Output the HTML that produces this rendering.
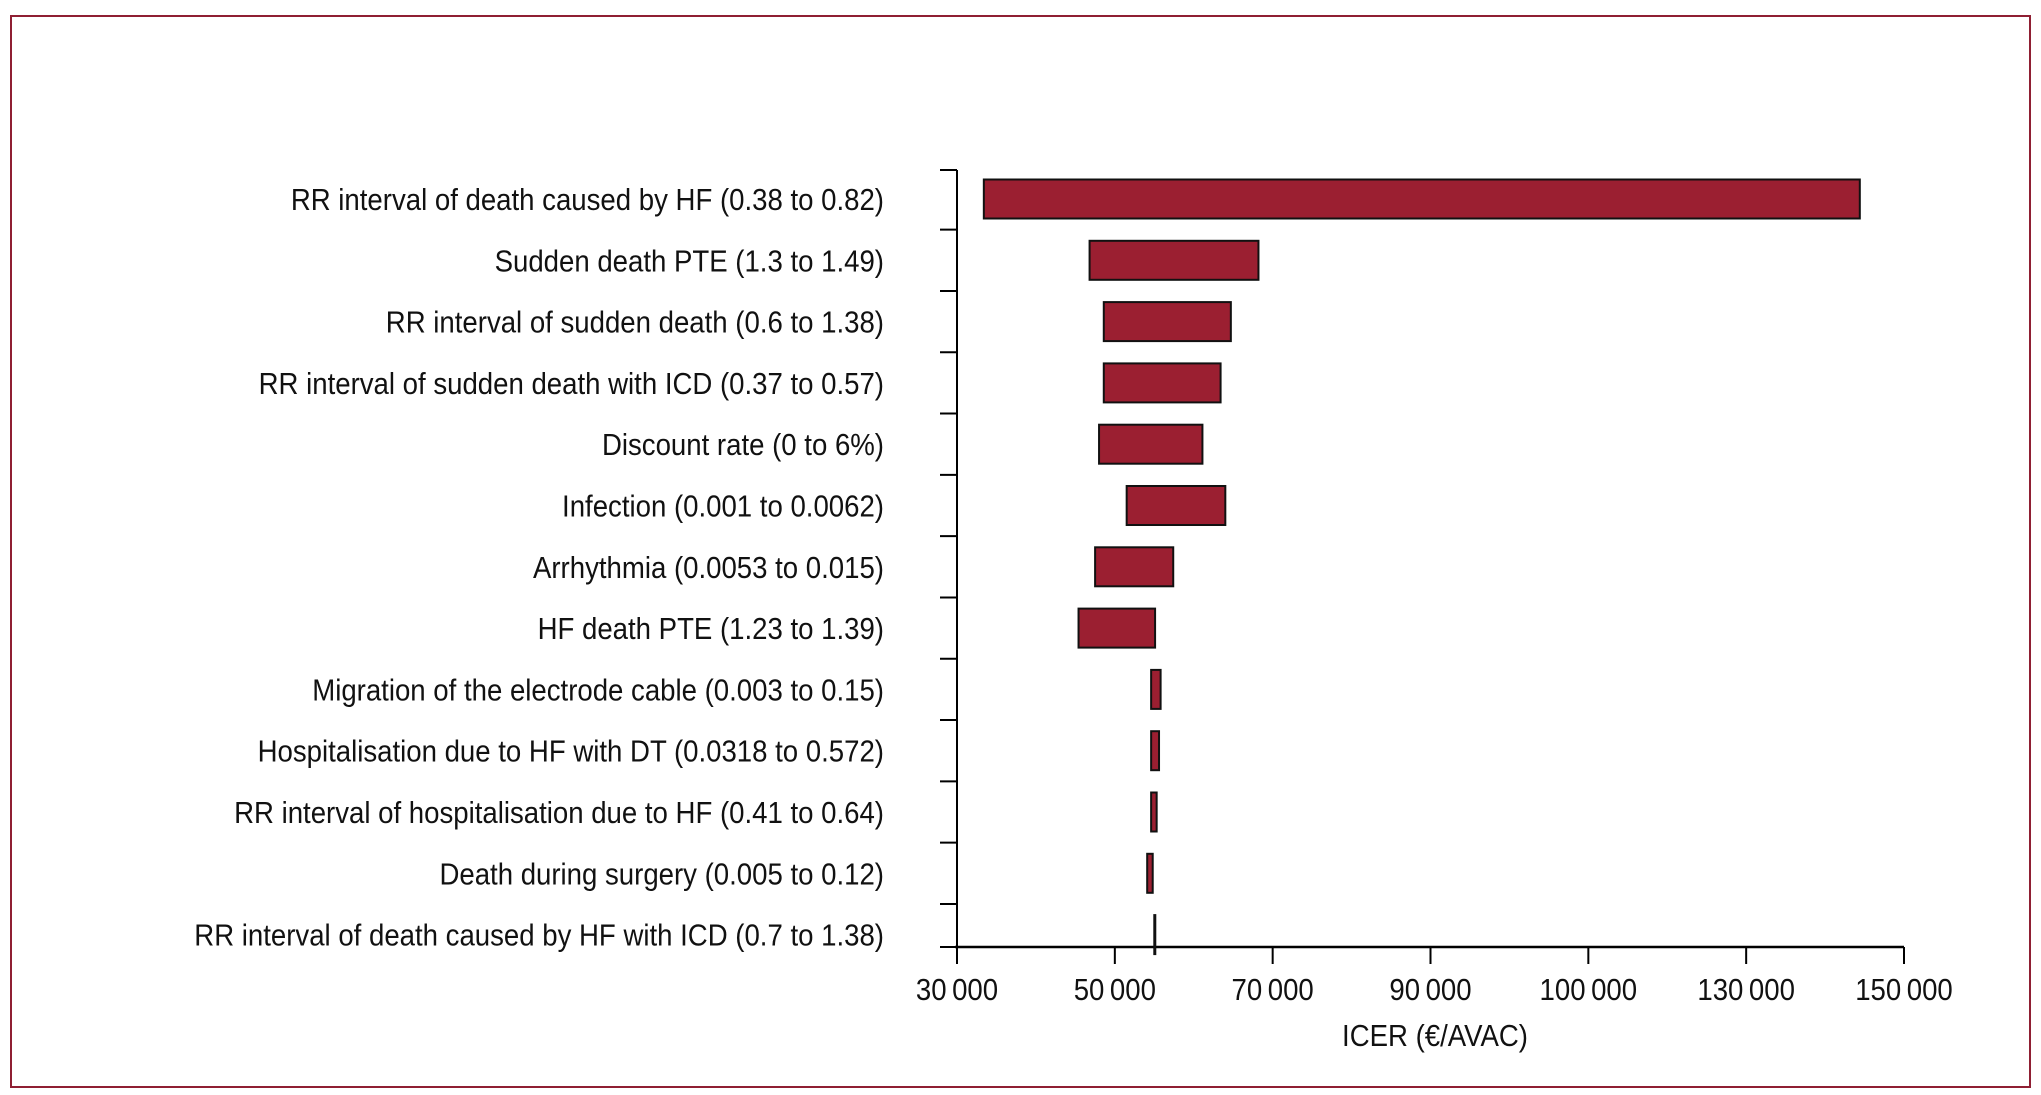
<!DOCTYPE html>
<html><head><meta charset="utf-8"><style>
html,body{margin:0;padding:0;background:#fff;}
svg{display:block;font-family:"Liberation Sans Narrow","Liberation Sans",sans-serif;}
</style></head><body>
<svg id="chart" width="2041" height="1095" viewBox="0 0 2041 1095">
<rect x="11" y="16" width="2019" height="1071" fill="none" stroke="#8f1f33" stroke-width="2"/>
<g id="plot"></g>
</svg>
<script>
const labels = ["RR interval of death caused by HF (0.38 to 0.82)","Sudden death PTE (1.3 to 1.49)","RR interval of sudden death (0.6 to 1.38)","RR interval of sudden death with ICD (0.37 to 0.57)","Discount rate (0 to 6%)","Infection (0.001 to 0.0062)","Arrhythmia (0.0053 to 0.015)","HF death PTE (1.23 to 1.39)","Migration of the electrode cable (0.003 to 0.15)","Hospitalisation due to HF with DT (0.0318 to 0.572)","RR interval of hospitalisation due to HF (0.41 to 0.64)","Death during surgery (0.005 to 0.12)","RR interval of death caused by HF with ICD (0.7 to 1.38)"];
const lowValues = [33400,46800,48600,48600,48000,51500,47500,45400,54600,54600,54600,54100,55000];
const highValues = [144400,68200,64700,63400,61100,64000,57400,55100,55800,55600,55300,54800,55100];
const tickValues = [30000,50000,70000,90000,100000,130000,150000];
const tickLabels = ["30\u2009000","50\u2009000","70\u2009000","90\u2009000","100\u2009000","130\u2009000","150\u2009000"];

const NS="http://www.w3.org/2000/svg";
const g=document.getElementById('plot');
const X0=957, X1=1904, YTOP=170, YAX=947;
const n=labels.length, rowH=61.3, Y0=199;
function xScale(v){
  const step=(X1-X0)/(tickValues.length-1);
  for(let i=0;i<tickValues.length-1;i++){
    if(v<=tickValues[i+1]||i===tickValues.length-2){
      return X0+step*(i+(v-tickValues[i])/(tickValues[i+1]-tickValues[i]));
    }
  }
}
function yCenter(i){return Y0+rowH*i;}
function mk(tag,attrs){const e=document.createElementNS(NS,tag);for(const k in attrs)e.setAttribute(k,attrs[k]);g.appendChild(e);return e;}

let ax=mk('line',{x1:X0,y1:YTOP,x2:X0,y2:YAX,stroke:'#000','stroke-width':2});


let axx=mk('line',{x1:X0-2,y1:YAX,x2:X1,y2:YAX,stroke:'#000','stroke-width':2.5});



for(let i=0;i<=n;i++){
  const y=(i===0)?YTOP:Math.min(yCenter(i-1)+rowH/2,YAX);
  const t=mk('line',{x1:X0-17,y1:y,x2:X0,y2:y,stroke:'#000','stroke-width':2});
  
  
}
const SX=0.89;
labels.forEach((lab,i)=>{
  const yc=yCenter(i);
  const t=mk('text',{x:884/SX,y:yc+11,'text-anchor':'end','font-size':31,fill:'#111',transform:'scale('+SX+',1)'});
  t.textContent=lab;
  
  
  const x1=xScale(lowValues[i]), x2=xScale(highValues[i]);
  const r=mk('rect',{x:x1,y:yc-19.5,width:Math.max(x2-x1,1),height:39,fill:'#9b1f31',stroke:'#111','stroke-width':2});
  
  
});
tickValues.forEach((v,i)=>{
  const x=xScale(v);
  const t=mk('line',{x1:x,y1:YAX,x2:x,y2:YAX+17,stroke:'#000','stroke-width':2});
  
  
  const l=mk('text',{x:x/SX,y:1000,'text-anchor':'middle','font-size':31,fill:'#111',transform:'scale('+SX+',1)'});
  l.textContent=tickLabels[i];
  
  
});
const tt=mk('text',{x:1435/SX,y:1046,'text-anchor':'middle','font-size':31,fill:'#111',transform:'scale('+SX+',1)'});
tt.textContent="ICER (€/AVAC)";


</script>
</body></html>
